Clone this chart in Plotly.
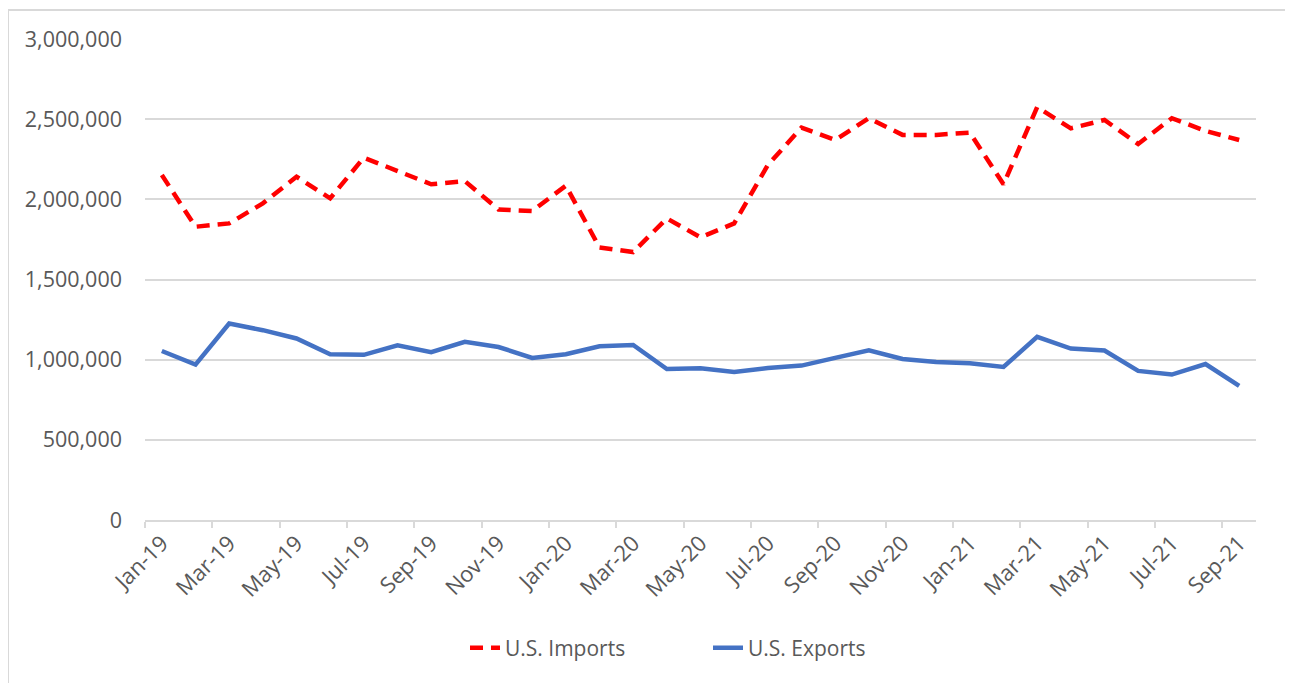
import plotly.graph_objects as go

months = ["Jan-19","Feb-19","Mar-19","Apr-19","May-19","Jun-19","Jul-19","Aug-19","Sep-19","Oct-19","Nov-19","Dec-19",
          "Jan-20","Feb-20","Mar-20","Apr-20","May-20","Jun-20","Jul-20","Aug-20","Sep-20","Oct-20","Nov-20","Dec-20",
          "Jan-21","Feb-21","Mar-21","Apr-21","May-21","Jun-21","Jul-21","Aug-21","Sep-21"]

imports = [2152000, 1829000, 1850000, 1975000, 2141000, 2006000, 2260000, 2177000, 2094000, 2114000, 1937000, 1927000,
           2085000, 1700000, 1671000, 1881000, 1763000, 1850000, 2214000, 2447000, 2370000, 2506000, 2402000, 2402000,
           2416000, 2094000, 2575000, 2443000, 2495000, 2345000, 2506000, 2427000, 2370000]

exports = [1054000, 969000, 1225000, 1184000, 1132000, 1034000, 1030000, 1090000, 1047000, 1111000, 1079000, 1011000,
           1034000, 1084000, 1092000, 942000, 946000, 923000, 948000, 963000, 1011000, 1059000, 1004000, 986000,
           978000, 955000, 1142000, 1069000, 1057000, 930000, 907000, 973000, 836000]

FONT = "Open Sans"
GRAY_TXT = "#595959"
GRID = "#d9d9d9"

fig = go.Figure()
fig.add_trace(go.Scatter(x=months, y=imports, name="U.S. Imports", mode="lines",
                         line=dict(color="#ff0000", width=4.5, dash="13px,8px")))
fig.add_trace(go.Scatter(x=months, y=exports, name="U.S. Exports", mode="lines",
                         line=dict(color="#4472c4", width=4.5)))

# the page body adds an 8px offset; figure coords = page coords - 8
OFF = 8
W, H = 1285, 675
L, T = 145 - OFF, 39 - OFF
R = W - (1256 - OFF)
B = H - (520 - OFF)
pw = W - L - R
ph = H - T - B

def px_x(p):
    return (p - OFF - L) / pw

def px_y(p):
    return (H - B - (p - OFF)) / ph

fig.update_layout(
    width=W, height=H,
    margin=dict(l=L, r=R, t=T, b=B, autoexpand=False),
    paper_bgcolor="white", plot_bgcolor="white",
    font=dict(family=FONT, size=21, color=GRAY_TXT),
    showlegend=True,
    legend=dict(orientation="h", x=px_x(465), xanchor="left", y=px_y(648), yanchor="middle",
                yref="paper", font=dict(family=FONT, size=21, color=GRAY_TXT),
                bgcolor="rgba(0,0,0,0)", entrywidth=198, entrywidthmode="pixels"),
    xaxis=dict(type="category", tickangle=-45, dtick=2, tickson="boundaries",
               range=[-0.5, len(months) - 0.5], automargin=False,
               ticks="outside", ticklen=6, tickcolor=GRID, tickwidth=1.5,
               showline=True, linecolor=GRID, linewidth=1.5, showgrid=False,
               tickfont=dict(family=FONT, size=22, color=GRAY_TXT), zeroline=False),
    yaxis=dict(range=[0, 3000000], dtick=500000, tickformat=",", showgrid=True,
               gridcolor=GRID, gridwidth=1.5, showline=False, zeroline=False,
               ticks="", ticklabelstandoff=22, automargin=False,
               tickfont=dict(family=FONT, size=21.5, color=GRAY_TXT)),
    shapes=[dict(type="rect", xref="paper", yref="paper",
                 x0=px_x(8), x1=px_x(1287),
                 y0=px_y(720), y1=px_y(10),
                 line=dict(color=GRID, width=2), fillcolor="rgba(0,0,0,0)", layer="below")],
)

fig.write_html("out.html")
